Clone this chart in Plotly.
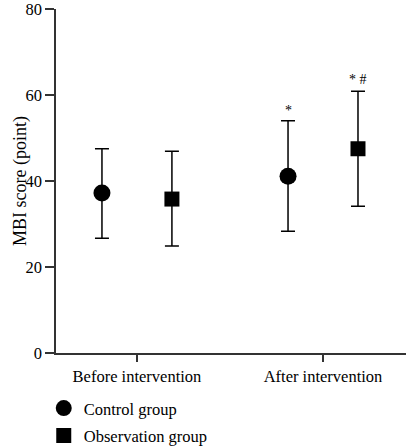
import plotly.graph_objects as go

categories = ["Before intervention", "After intervention"]
control_mean = [37.2, 41.1]
control_upper = [47.5, 54.0]
control_lower = [26.7, 28.3]
obs_mean = [35.8, 47.5]
obs_upper = [46.9, 60.9]
obs_lower = [24.9, 34.1]
control_marks = ["", "*"]
obs_marks = ["", "* #"]
y_title = "MBI score (point)"

offset = 0.188
FONT = "Liberation Serif, Times New Roman, serif"

fig = go.Figure()
cx = [i - offset for i in range(len(categories))]
ox = [i + offset for i in range(len(categories))]

fig.add_trace(go.Scatter(
    x=cx, y=control_mean, mode="markers", name="Control group", legendgroup="c",
    marker=dict(symbol="circle", size=17, color="black"),
    error_y=dict(type="data", symmetric=False,
                 array=[u - m for u, m in zip(control_upper, control_mean)],
                 arrayminus=[m - l for m, l in zip(control_mean, control_lower)],
                 color="black", thickness=1.5, width=7),
))
fig.add_trace(go.Scatter(
    x=ox, y=obs_mean, mode="markers", name="Observation group", legendgroup="o",
    marker=dict(symbol="square", size=15, color="black"),
    error_y=dict(type="data", symmetric=False,
                 array=[u - m for u, m in zip(obs_upper, obs_mean)],
                 arrayminus=[m - l for m, l in zip(obs_mean, obs_lower)],
                 color="black", thickness=1.5, width=7),
))

for x, u, t in zip(cx, control_upper, control_marks):
    if t:
        fig.add_annotation(x=x, y=u, text=t, showarrow=False, yanchor="bottom",
                           yshift=1, font=dict(size=14, color="black", family=FONT))
for x, u, t in zip(ox, obs_upper, obs_marks):
    if t:
        fig.add_annotation(x=x, y=u, text=t, showarrow=False, yanchor="bottom",
                           yshift=2, font=dict(size=14, color="black", family=FONT))

fig.add_annotation(xref="paper", yref="paper", x=-0.103, y=0.5, text=y_title,
                   textangle=-90, showarrow=False, xanchor="center", yanchor="middle",
                   font=dict(size=18, family=FONT, color="black"))

fig.update_layout(
    width=406, height=447,
    margin=dict(l=56, r=0, t=9, b=94, autoexpand=False),
    paper_bgcolor="white", plot_bgcolor="white",
    font=dict(family=FONT, size=16, color="black"),
    showlegend=True,
    legend=dict(x=-0.035, y=-0.11, xanchor="left", yanchor="top",
                font=dict(size=16.5, family=FONT, color="black"),
                tracegroupgap=3, itemwidth=30),
    xaxis=dict(range=[-0.435, 1.446], tickvals=[0, 1], ticktext=categories,
               automargin=False,
               showline=True, linecolor="#333", linewidth=1.5,
               ticks="outside", ticklen=7, tickwidth=1.5, tickcolor="#333",
               showgrid=False, zeroline=False,
               tickfont=dict(size=16.5, family=FONT, color="black")),
    yaxis=dict(range=[0, 80], tickvals=[0, 20, 40, 60, 80],
               automargin=False, ticklabeloverflow="allow",
               showline=True, linecolor="#333", linewidth=1.5,
               ticks="outside", ticklen=9, tickwidth=1.5, tickcolor="#333",
               showgrid=False, zeroline=False,
               tickfont=dict(size=16.5, family=FONT, color="black")),
)

fig.write_html("out.html", config={"displayModeBar": False},
               post_script="document.body.style.margin='0';document.body.style.overflow='hidden';")
